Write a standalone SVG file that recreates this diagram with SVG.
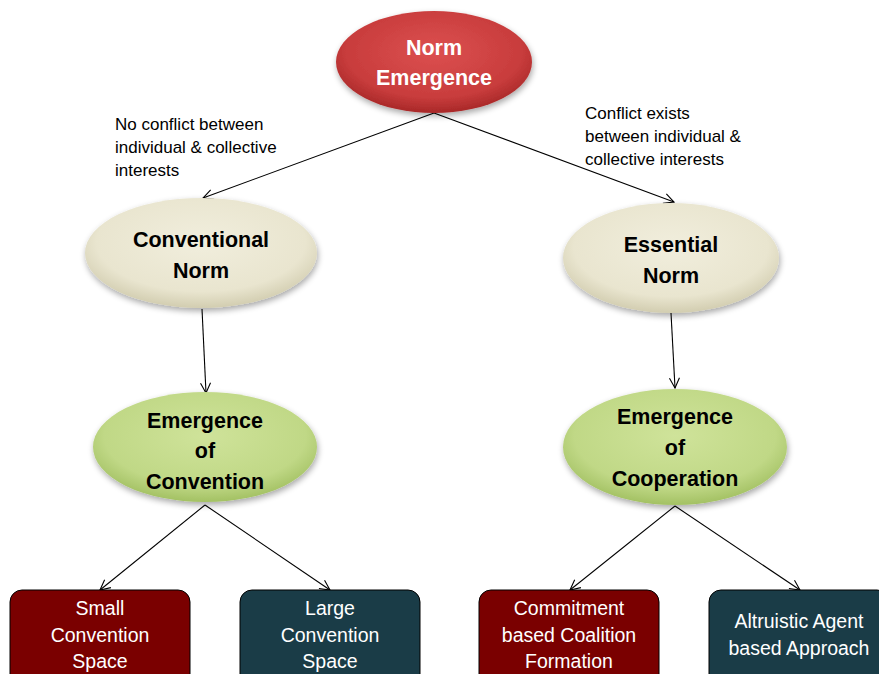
<svg xmlns="http://www.w3.org/2000/svg" width="879" height="674" viewBox="0 0 879 674">
  <defs>
    <radialGradient id="gRed" cx="50%" cy="40%" r="60%">
      <stop offset="0" stop-color="#dc5050"/>
      <stop offset="0.75" stop-color="#c83c3c"/>
      <stop offset="1" stop-color="#a82828"/>
    </radialGradient>
    <radialGradient id="gBeige" cx="50%" cy="40%" r="60%">
      <stop offset="0" stop-color="#f1eedd"/>
      <stop offset="0.75" stop-color="#e9e5cf"/>
      <stop offset="1" stop-color="#d2cdb0"/>
    </radialGradient>
    <radialGradient id="gGreen" cx="50%" cy="40%" r="60%">
      <stop offset="0" stop-color="#cfe39a"/>
      <stop offset="0.75" stop-color="#c0d886"/>
      <stop offset="1" stop-color="#a3c163"/>
    </radialGradient>
    <filter id="shadow" x="-20%" y="-20%" width="140%" height="150%">
      <feGaussianBlur in="SourceAlpha" stdDeviation="3"/>
      <feOffset dx="1" dy="3"/>
      <feComponentTransfer><feFuncA type="linear" slope="0.35"/></feComponentTransfer>
      <feMerge><feMergeNode/><feMergeNode in="SourceGraphic"/></feMerge>
    </filter>
    <marker id="arrow" markerWidth="12" markerHeight="12" refX="11" refY="6" orient="auto" markerUnits="userSpaceOnUse">
      <polyline points="1,1 11,6 1,11" fill="none" stroke="#000" stroke-width="1.1"/>
    </marker>
    <style>
      .ell-title { font-family: "Liberation Sans", Arial, sans-serif; font-weight: bold; font-size: 21.5px; text-anchor: middle; }
      .box-text { font-family: "Liberation Sans", Arial, sans-serif; font-size: 19.5px; fill: #fff; text-anchor: middle; }
      .label { font-family: "Liberation Sans", Arial, sans-serif; font-size: 17px; fill: #000; }
      .edge { stroke: #000; stroke-width: 1.1; fill: none; marker-end: url(#arrow); }
      .box { stroke: #000; stroke-width: 1; }
    </style>
  </defs>

  <rect width="879" height="674" fill="#fff"/>

  <!-- connectors -->
  <g id="connectors">
    <line class="edge" x1="434" y1="113" x2="203" y2="198"/>
    <line class="edge" x1="434" y1="113" x2="674" y2="202"/>
    <line class="edge" x1="202" y1="309" x2="206" y2="393"/>
    <line class="edge" x1="671" y1="313" x2="675" y2="388"/>
    <line class="edge" x1="205" y1="505" x2="100" y2="590"/>
    <line class="edge" x1="205" y1="505" x2="330" y2="590"/>
    <line class="edge" x1="675" y1="506" x2="570" y2="590"/>
    <line class="edge" x1="675" y1="506" x2="800" y2="590"/>
  </g>

  <!-- edge labels -->
  <g id="label-no-conflict">
    <text class="label" x="115" y="130">No conflict between</text>
    <text class="label" x="115" y="153">individual &amp; collective</text>
    <text class="label" x="115" y="176">interests</text>
  </g>
  <g id="label-conflict">
    <text class="label" x="585" y="119">Conflict exists</text>
    <text class="label" x="585" y="142">between individual &amp;</text>
    <text class="label" x="585" y="165">collective interests</text>
  </g>

  <!-- nodes -->
  <g id="norm-emergence">
    <ellipse cx="434" cy="62" rx="98" ry="51" fill="url(#gRed)" filter="url(#shadow)"/>
    <text class="ell-title" x="434" y="55" fill="#fff">Norm</text>
    <text class="ell-title" x="434" y="85" fill="#fff">Emergence</text>
  </g>

  <g id="conventional-norm">
    <ellipse cx="201" cy="253" rx="116" ry="55" fill="url(#gBeige)" filter="url(#shadow)"/>
    <text class="ell-title" x="201" y="247" fill="#000">Conventional</text>
    <text class="ell-title" x="201" y="278" fill="#000">Norm</text>
  </g>

  <g id="essential-norm">
    <ellipse cx="671" cy="258" rx="108" ry="55" fill="url(#gBeige)" filter="url(#shadow)"/>
    <text class="ell-title" x="671" y="252" fill="#000">Essential</text>
    <text class="ell-title" x="671" y="283" fill="#000">Norm</text>
  </g>

  <g id="emergence-of-convention">
    <ellipse cx="205" cy="447" rx="112" ry="55" fill="url(#gGreen)" filter="url(#shadow)"/>
    <text class="ell-title" x="205" y="428" fill="#000">Emergence</text>
    <text class="ell-title" x="205" y="458" fill="#000">of</text>
    <text class="ell-title" x="205" y="489" fill="#000">Convention</text>
  </g>

  <g id="emergence-of-cooperation">
    <ellipse cx="675" cy="447" rx="112" ry="58" fill="url(#gGreen)" filter="url(#shadow)"/>
    <text class="ell-title" x="675" y="424" fill="#000">Emergence</text>
    <text class="ell-title" x="675" y="455" fill="#000">of</text>
    <text class="ell-title" x="675" y="486" fill="#000">Cooperation</text>
  </g>

  <g id="small-convention-space">
    <rect class="box" x="10" y="590" width="180" height="100" rx="12" fill="#7a0000"/>
    <text class="box-text" x="100" y="615">Small</text>
    <text class="box-text" x="100" y="642">Convention</text>
    <text class="box-text" x="100" y="668">Space</text>
  </g>

  <g id="large-convention-space">
    <rect class="box" x="240" y="590" width="180" height="100" rx="12" fill="#1a3c47"/>
    <text class="box-text" x="330" y="615">Large</text>
    <text class="box-text" x="330" y="642">Convention</text>
    <text class="box-text" x="330" y="668">Space</text>
  </g>

  <g id="commitment-coalition">
    <rect class="box" x="479" y="590" width="180" height="100" rx="12" fill="#7a0000"/>
    <text class="box-text" x="569" y="615">Commitment</text>
    <text class="box-text" x="569" y="642">based Coalition</text>
    <text class="box-text" x="569" y="668">Formation</text>
  </g>

  <g id="altruistic-agent">
    <rect class="box" x="709" y="590" width="180" height="100" rx="12" fill="#1a3c47"/>
    <text class="box-text" x="799" y="628">Altruistic Agent</text>
    <text class="box-text" x="799" y="655">based Approach</text>
  </g>
</svg>
